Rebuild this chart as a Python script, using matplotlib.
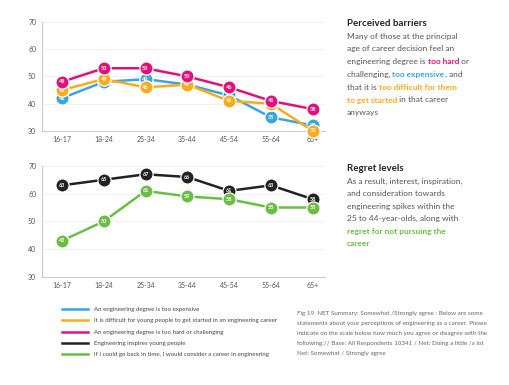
import matplotlib
matplotlib.use("Agg")
import matplotlib.pyplot as plt
from matplotlib.lines import Line2D

plt.rcParams['font.family'] = ['Lato', 'DejaVu Sans']

ages = ["16-17", "18-24", "25-34", "35-44", "45-54", "55-64", "65+"]
expensive = [42, 48, 49, 47, 43, 35, 32]
difficult = [45, 49, 46, 47, 41, 40, 30]
too_hard = [48, 53, 53, 50, 46, 41, 38]
inspires = [63, 65, 67, 66, 61, 63, 58]
regret = [43, 50, 61, 59, 58, 55, 55]
yticks = [30, 40, 50, 60, 70]

BLUE = "#3aa7dc"
ORANGE = "#f6ac1e"
PINK = "#e0127a"
BLACK = "#222222"
GREEN = "#6cbd45"
GRAY = "#555555"

fig = plt.figure(figsize=(5.1, 3.85), dpi=100)
ax1 = fig.add_axes([0.082, 0.660, 0.555, 0.283])
ax2 = fig.add_axes([0.082, 0.281, 0.555, 0.288])


def style(ax):
    ax.set_ylim(30, 70)
    ax.set_xlim(-0.48, 6.29)
    ax.set_yticks(yticks)
    ax.set_xticks(range(len(ages)))
    ax.set_xticklabels(ages)
    ax.tick_params(length=0, labelsize=5.0, colors=GRAY, pad=4)
    for s in ["top", "right"]:
        ax.spines[s].set_visible(False)
    for s in ["left", "bottom"]:
        ax.spines[s].set_color("#cccccc")
        ax.spines[s].set_linewidth(0.8)
    ax.grid(axis="y", color="#eeeeee", linewidth=0.6)
    ax.set_axisbelow(True)


def series(ax, vals, color, z):
    x = list(range(len(vals)))
    ax.plot(x, vals, color=color, lw=1.8, marker="o", markersize=9.5,
            markerfacecolor=color, markeredgecolor="white", markeredgewidth=0.9,
            zorder=z, clip_on=False)
    for xi, v in zip(x, vals):
        ax.text(xi, v, str(v), ha="center", va="center", fontsize=4.0,
                color="white", fontweight="bold", zorder=z + 0.5, clip_on=False)


style(ax1)
style(ax2)
series(ax1, expensive, BLUE, 3)
series(ax1, difficult, ORANGE, 4)
series(ax1, too_hard, PINK, 5)
series(ax2, inspires, BLACK, 4)
series(ax2, regret, GREEN, 5)

# overlay axis for text
tax = fig.add_axes([0, 0, 1, 1])
tax.set_xlim(0, 510)
tax.set_ylim(385, 0)
tax.axis("off")

BODY = "#555555"
FS = 6.0


def rich(x, y, segs, fs=FS):
    fig.canvas.draw()
    r = fig.canvas.get_renderer()
    cx = x
    for txt, col, bold in segs:
        t = tax.text(cx, y, txt, fontsize=fs, color=col,
                     fontweight="bold" if bold else "normal",
                     va="baseline", ha="left")
        bb = t.get_window_extent(renderer=r)
        cx += bb.width * 510 / fig.bbox.width


tax.text(347, 26, "Perceived barriers", fontsize=7.0, fontweight="bold", color="#222222", va="baseline")
top_lines = [
    [("Many of those at the principal", BODY, False)],
    [("age of career decision feel an", BODY, False)],
    [("engineering degree is ", BODY, False), ("too hard", PINK, True), (" or", BODY, False)],
    [("challenging, ", BODY, False), ("too expensive", BLUE, True), (", and", BODY, False)],
    [("that it is ", BODY, False), ("too difficult for them", ORANGE, True)],
    [("to get started", ORANGE, True), (" in that career", BODY, False)],
    [("anyways", BODY, False)],
]
for i, segs in enumerate(top_lines):
    rich(347, 38.5 + i * 12.8, segs)

tax.text(347, 171, "Regret levels", fontsize=7.0, fontweight="bold", color="#222222", va="baseline")
bot_lines = [
    [("As a result, interest, inspiration,", BODY, False)],
    [("and consideration towards", BODY, False)],
    [("engineering spikes within the", BODY, False)],
    [("25 to 44-year-olds, along with", BODY, False)],
    [("regret for not pursuing the", GREEN, True)],
    [("career", GREEN, True)],
]
for i, segs in enumerate(bot_lines):
    rich(347, 184 + i * 12.4, segs)

# legend
leg_items = [
    (BLUE, "An engineering degree is too expensive"),
    (ORANGE, "It is difficult for young people to get started in an engineering career"),
    (PINK, "An engineering degree is too hard or challenging"),
    (BLACK, "Engineering inspires young people"),
    (GREEN, "If I could go back in time, I would consider a career in engineering"),
]
handles = [Line2D([], [], color=c, lw=1.8) for c, _ in leg_items]
labels = [l for _, l in leg_items]
fig.legend(handles, labels, loc="upper left", bbox_to_anchor=(0.122, 0.203),
           frameon=False, fontsize=4.4, handlelength=4.2, handletextpad=1.0,
           labelspacing=0.98, labelcolor="#444444", borderpad=0, borderaxespad=0)

foot = ("Fig 19. NET Summary: Somewhat /Strongly agree : Below are some\n"
        "statements about your perceptions of engineering as a career. Please\n"
        "indicate on the scale below how much you agree or disagree with the\n"
        "following:// Base: All Respondents 10341 / Net: Doing a little /a lot\n"
        "Net: Somewhat / Strongly agree")
tax.text(297, 310.5, foot, fontsize=4.5, color="#666666", va="top", ha="left",
         linespacing=2.25)

fig.savefig("out.png", dpi=100)
